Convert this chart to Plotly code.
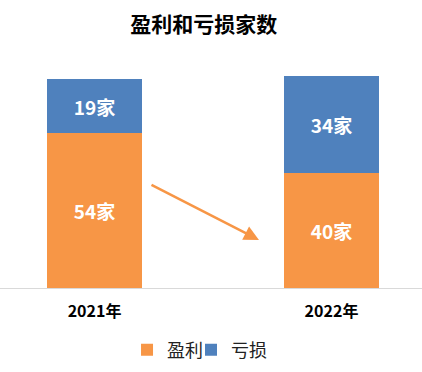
import plotly.graph_objects as go

years = ["2021年", "2022年"]
profit = [54, 40]
loss = [19, 34]
series_names = ["盈利", "亏损"]
colors = ["#F79646", "#4F81BD"]

x = [0, 1]
font_family = "Noto Sans CJK SC, Microsoft YaHei, sans-serif"

fig = go.Figure()
for i, (name, vals, col) in enumerate(zip(series_names, [profit, loss], colors)):
    fig.add_trace(go.Bar(
        x=x, y=vals, name=name, marker=dict(color=col, line=dict(width=0)),
        width=0.401,
        text=[f"<b>{v}家</b>" for v in vals],
        textposition="inside", insidetextanchor="middle",
        textfont=dict(color="white", size=19, family=font_family),
        hoverinfo="skip",
        legend="legend" if i == 0 else "legend2",
    ))

fig.add_annotation(
    x=0.694, y=16.8, ax=0.234, ay=36.3,
    xref="x", yref="y", axref="x", ayref="y",
    showarrow=True, arrowhead=2, arrowsize=1.2, arrowwidth=2.5,
    arrowcolor="#F79646", text="",
)

legend_common = dict(orientation="h", xanchor="left", y=-0.25, yanchor="middle",
                     font=dict(size=18, color="#222", family=font_family),
                     itemwidth=30, bgcolor="rgba(0,0,0,0)")

fig.update_layout(
    width=422, height=372,
    margin=dict(l=0, r=0, t=40, b=84),
    paper_bgcolor="white", plot_bgcolor="white",
    barmode="stack",
    title=dict(text="<b>盈利和亏损家数</b>", x=0.483, xanchor="center",
               y=1 - 25 / 372, yanchor="middle", yref="container",
               font=dict(size=21, color="black", family=font_family)),
    xaxis=dict(
        tickvals=x, ticktext=[f"<b>{y}</b>" for y in years],
        range=[-0.399, 1.382], showgrid=False, zeroline=False,
        showline=True, linecolor="#D9D9D9", linewidth=1,
        ticks="", ticklabelstandoff=9, automargin=False,
        tickfont=dict(size=16, color="black", family=font_family),
        fixedrange=True,
    ),
    yaxis=dict(range=[0, 86.6], visible=False, showgrid=False, zeroline=False,
               automargin=False, fixedrange=True),
    legend=dict(x=0.301, **legend_common),
    legend2=dict(x=0.4526, **legend_common),
    showlegend=True,
)

fig.write_html("out.html", config={"displayModeBar": False},
               post_script="document.body.style.margin='0';document.body.style.padding='0';")
